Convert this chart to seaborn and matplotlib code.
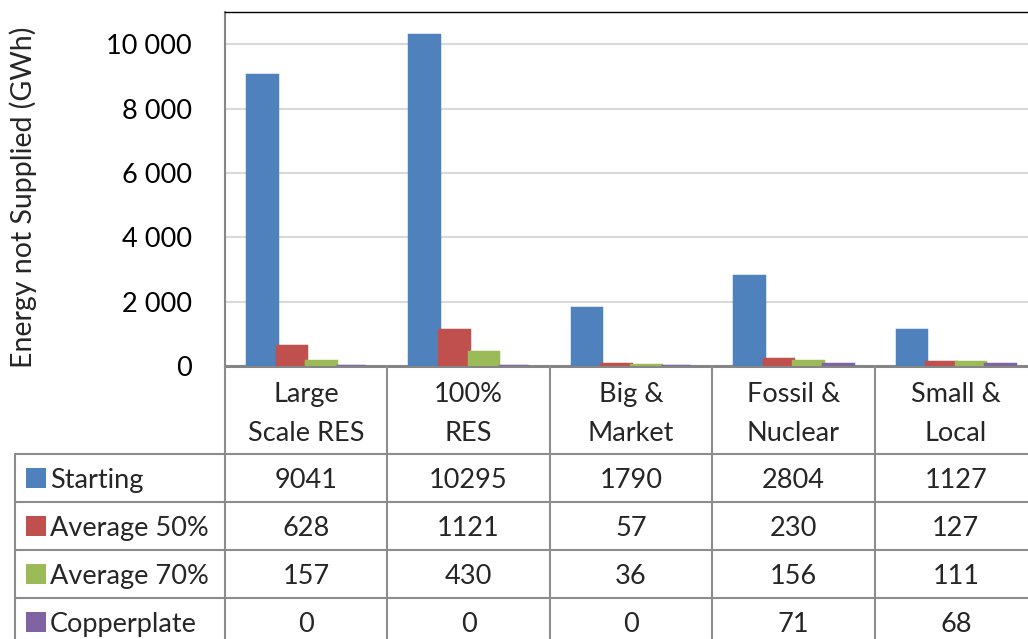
import matplotlib
matplotlib.use("Agg")
import matplotlib.pyplot as plt
import matplotlib.transforms as mtransforms
from matplotlib.lines import Line2D
from matplotlib.patches import Rectangle
import seaborn as sns
import pandas as pd

categories = ["Large\nScale RES", "100%\nRES", "Big &\nMarket", "Fossil &\nNuclear", "Small &\nLocal"]
series = ["Starting", "Average 50%", "Average 70%", "Copperplate"]
starting = [9041, 10295, 1790, 2804, 1127]
average50 = [628, 1121, 57, 230, 127]
average70 = [157, 430, 36, 156, 111]
copperplate = [0, 0, 0, 71, 68]
colors = ["#4F81BD", "#C0504D", "#9BBB59", "#8064A2"]
y_ticks = [0, 2000, 4000, 6000, 8000, 10000]
y_label = "Energy not Supplied (GWh)"

W, H = 1028, 639
FS = 19.5
sns.set_theme(style="white")
plt.rcParams['font.family'] = ['Lato', 'DejaVu Sans']

fig = plt.figure(figsize=(W / 100, H / 100), dpi=100)


def fx(px):
    return px / W


def fy(py):
    return 1 - py / H


ax_left, ax_right, ax_top, ax_bot = 225, 1037, 12, 366
ax = fig.add_axes([fx(ax_left), fy(ax_bot), (ax_right - ax_left) / W, (ax_bot - ax_top) / H])

values = [starting, average50, average70, copperplate]
rows = []
for s, vals in zip(series, values):
    for c, v in zip(categories, vals):
        rows.append({"category": c, "series": s, "value": v})
df = pd.DataFrame(rows)

sns.barplot(data=df, x="category", y="value", hue="series", order=categories,
            hue_order=series, palette=colors, saturation=1, width=0.73,
            legend=False, errorbar=None, ax=ax)
for p in ax.patches:
    p.set_edgecolor(p.get_facecolor())
    p.set_linewidth(2.5)
    p.set_zorder(3)

ax.set_xlim(-0.5, 4.5)
ax.set_ylim(0, 11000)
ax.set_yticks(y_ticks)
ax.set_yticklabels([f"{v:,}".replace(",", " ") for v in y_ticks])
ax.yaxis.grid(True, color="#D9D9D9", linewidth=1.5)
ax.xaxis.grid(False)
ax.set_axisbelow(True)
ax.set_xticks(range(len(categories)))
ax.set_xticklabels([])
ax.set_xlabel("")
ax.set_ylabel("")
ax.tick_params(axis='y', length=0, pad=24, labelsize=FS, labelcolor="black")
ax.tick_params(axis='x', length=0)
for side in ["left", "bottom"]:
    ax.spines[side].set_color("#868686")
ax.spines["left"].set_linewidth(1.5)
ax.spines["bottom"].set_linewidth(2.2)
ax.spines["bottom"].set_zorder(2)
ax.spines["top"].set_color("black")
ax.spines["top"].set_linewidth(1.0)
ax.spines["right"].set_visible(False)

fig.text(fx(23), fy(197), y_label, rotation=90, ha="center", va="center", fontsize=20.5)

# data table
trans = mtransforms.blended_transform_factory(ax.transData, fig.transFigure)
line_col = "#8C8C8C"
lw = 1.5
for k in range(len(categories) + 1):
    fig.add_artist(Line2D([k - 0.5, k - 0.5], [fy(366), fy(H + 10)], transform=trans,
                          color=line_col, linewidth=lw))
fig.add_artist(Line2D([fx(15), fx(15)], [fy(454), fy(H + 10)], transform=fig.transFigure,
                      color=line_col, linewidth=lw))
row_top = 454
row_h = 48
for i in range(len(series)):
    yl = row_top + row_h * i
    fig.add_artist(Line2D([fx(15), fx(W + 10)], [fy(yl), fy(yl)], transform=fig.transFigure,
                          color=line_col, linewidth=lw))

for j, cat in enumerate(categories):
    lines = cat.split("\n")
    for li, txt in enumerate(lines):
        ax.text(j, fy(402 + 39 * li), txt, transform=trans, ha="center", va="baseline",
                fontsize=FS)

for i, s in enumerate(series):
    yc = row_top + row_h * i + 24
    fig.add_artist(Rectangle((fx(26), fy(yc + 10)), 20 / W, 20 / H, transform=fig.transFigure,
                             facecolor=colors[i], edgecolor="none"))
    fig.text(fx(50), fy(yc + 10), s, ha="left", va="baseline", fontsize=FS)
    for j in range(len(categories)):
        ax.text(j, fy(yc + 10), str(values[i][j]), transform=trans, ha="center",
                va="baseline", fontsize=FS)

fig.savefig("out.png", dpi=100)
